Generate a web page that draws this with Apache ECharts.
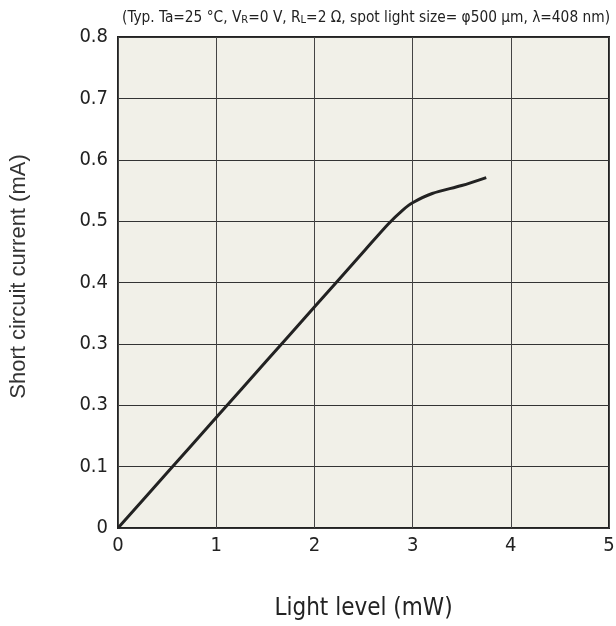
<!DOCTYPE html>
<html><head><meta charset="utf-8">
<script src="https://cdn.jsdelivr.net/npm/echarts@6/dist/echarts.min.js"></script>
<style>html,body{margin:0;padding:0;background:#fff}#c{width:616px;height:626px}</style>
</head><body><div id="c"></div>
<script>
const lightLevel = [0, 0.5, 1, 1.5, 2, 2.5, 2.75, 2.9, 3, 3.2, 3.5, 3.75];
const shortCircuitCurrent = [0, 0.09, 0.18, 0.27, 0.36, 0.45, 0.495, 0.518, 0.53, 0.545, 0.558, 0.571];
const xTickLabels = ['0', '1', '2', '3', '4', '5'];
const yTickLabels = ['0', '0.1', '0.3', '0.3', '0.4', '0.5', '0.6', '0.7', '0.8'];

const chart = echarts.init(document.getElementById('c'));
const tickFont = 'DejaVu Sans Condensed';
chart.setOption({
  animation: false,
  backgroundColor: '#ffffff',
  title: {
    text: '(Typ. Ta=25 °C, V{s|R}=0 V, R{s|L}=2 Ω, spot light size= φ500 μm, λ=408 nm)',
    right: 1, top: 6,
    textStyle: {
      fontFamily: tickFont, fontSize: 15.3, fontWeight: 'normal', color: '#222',
      rich: { s: { fontFamily: tickFont, fontSize: 11, color: '#222', padding: [3, 0, 0, 0] } }
    }
  },
  grid: { left: 118, right: 7, top: 37, bottom: 98, outerBoundsMode: 'none', show: true, backgroundColor: '#f1f0e8', borderColor: '#222', borderWidth: 2 },
  xAxis: {
    type: 'value', min: 0, max: 5, interval: 1,
    name: 'Light level (mW)', nameLocation: 'middle', nameGap: 69,
    nameTextStyle: { fontFamily: tickFont, fontSize: 24, color: '#222' },
    axisLine: { show: false }, axisTick: { show: false },
    axisLabel: { fontFamily: tickFont, fontSize: 20, color: '#222', margin: 8,
      formatter: (v) => xTickLabels[Math.round(v)] },
    splitLine: { show: true, lineStyle: { color: '#444', width: 1 } }
  },
  yAxis: {
    type: 'value', min: 0, max: 0.8, interval: 0.1,
    name: 'Short circuit current (mA)', nameLocation: 'middle', nameGap: 88, nameRotate: 90,
    nameTextStyle: { fontFamily: 'Liberation Sans', fontSize: 22, color: '#333', padding: [0, 0, 0, 12] },
    axisLine: { show: false }, axisTick: { show: false },
    axisLabel: { fontFamily: tickFont, fontSize: 20, color: '#222', margin: 10,
      formatter: (v) => yTickLabels[Math.round(v * 10)] },
    splitLine: { show: true, lineStyle: { color: '#333', width: 1 } }
  },
  series: [{
    type: 'line', data: lightLevel.map((x, i) => [x, shortCircuitCurrent[i]]),
    showSymbol: false, smooth: 0.3,
    lineStyle: { color: '#222', width: 3 }
  }]
});
</script></body></html>
